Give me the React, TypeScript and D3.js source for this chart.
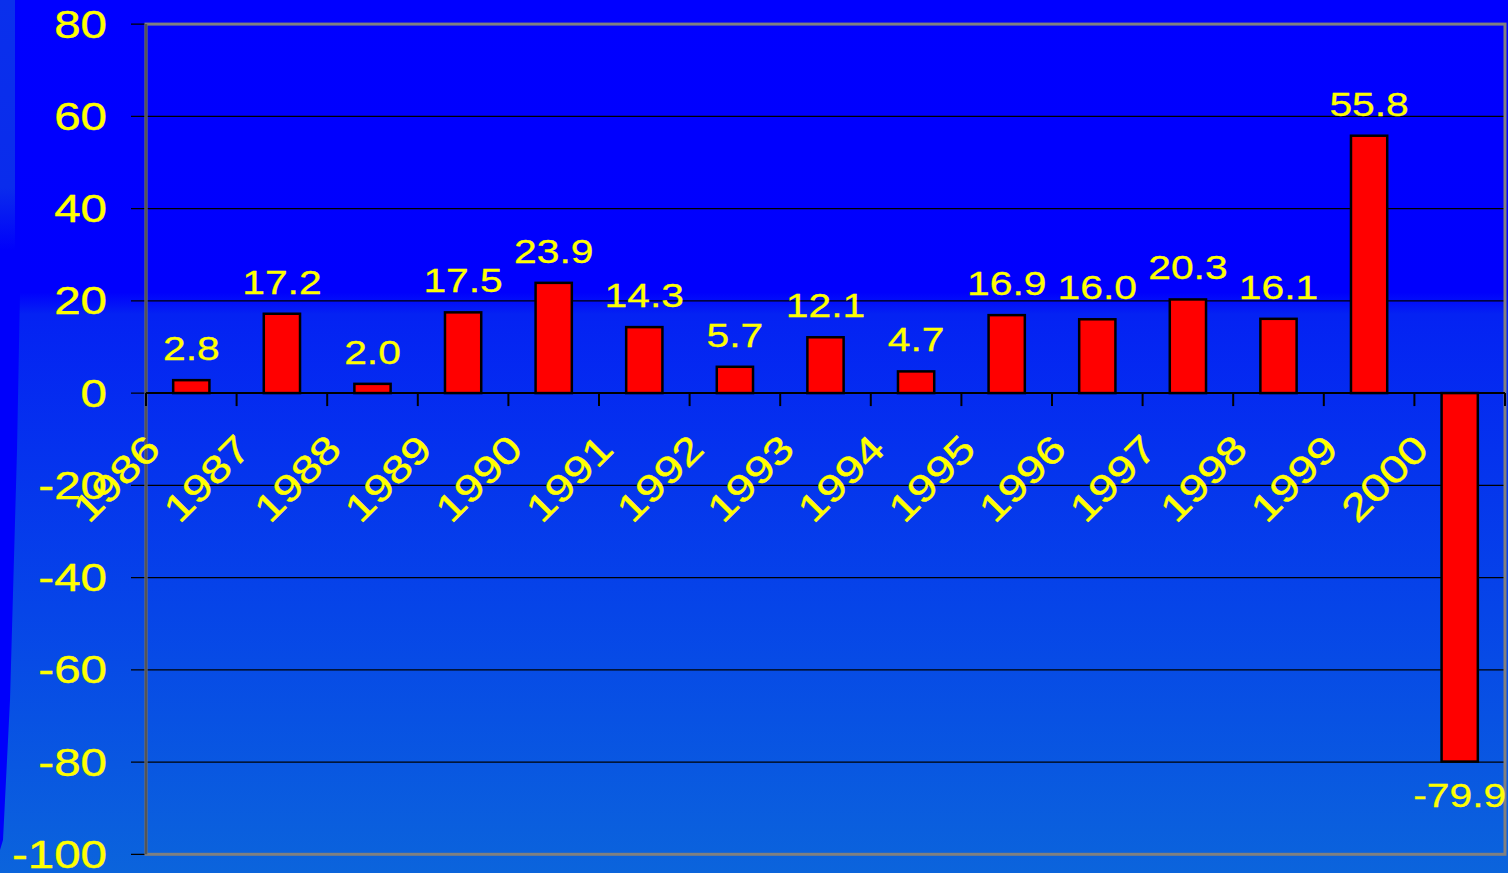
import React, { useEffect } from "react";
import * as d3 from "d3";

const years: string[] = ["1986","1987","1988","1989","1990","1991","1992","1993","1994","1995","1996","1997","1998","1999","2000"];
const values: number[] = [2.8, 17.2, 2.0, 17.5, 23.9, 14.3, 5.7, 12.1, 4.7, 16.9, 16.0, 20.3, 16.1, 55.8, -79.9];
const yTicks: number[] = [80, 60, 40, 20, 0, -20, -40, -60, -80, -100];

const W = 1508;
const H = 873;
const plot = { left: 146, right: 1505, top: 24.1, bottom: 854.3 };
const FONT = "'Liberation Sans', Arial, Helvetica, sans-serif";
const YELLOW = "#ffff00";

export default function App() {
  useEffect(() => {
    document.body.style.margin = "0";
    document.body.style.overflow = "hidden";
  }, []);

  const x = d3.scaleBand<string>().domain(years).range([plot.left, plot.right]).padding(0);
  const y = d3.scaleLinear().domain([-100, 80]).range([plot.bottom, plot.top]);
  const step = x.bandwidth();
  const barW = step * 0.4;
  const y0 = y(0);

  return (
    <svg width={W} height={H} style={{ position: "absolute", left: 0, top: 0 }}>
      <defs>
        <linearGradient id="bg" x1="0" y1="0" x2="0" y2="1">
          <stop offset="0" stopColor="#0000ff" />
          <stop offset="0.335" stopColor="#0000fd" />
          <stop offset="0.36" stopColor="#0422f3" />
          <stop offset="0.7" stopColor="#0645e8" />
          <stop offset="1" stopColor="#0b64dc" />
        </linearGradient>
        <linearGradient id="strip" x1="0" y1="0" x2="0" y2="1">
          <stop offset="0" stopColor="#0a30ec" />
          <stop offset="0.75" stopColor="#0a2cec" />
          <stop offset="1" stopColor="#0000fb" />
        </linearGradient>
      </defs>
      <rect x={0} y={0} width={W} height={H} fill="url(#bg)" />
      {/* left slide strip */}
      <polygon points="0,245 15,245 15,0 20,0 20,290 17,450 10,700 3,840 0,850" fill="#0000fb" />
      <rect x={0} y={0} width={15} height={250} fill="url(#strip)" />

      {/* gridlines */}
      {yTicks.map((t) => (
        <line key={"g" + t} x1={plot.left - 15} x2={plot.right} y1={y(t)} y2={y(t)} stroke="#000" strokeWidth={1.3} />
      ))}

      {/* plot border */}
      <rect x={plot.left} y={plot.top} width={plot.right - plot.left} height={plot.bottom - plot.top}
        fill="none" stroke="#808080" strokeWidth={3} />
      <line x1={plot.left} x2={plot.left} y1={plot.top} y2={plot.bottom} stroke="#555" strokeWidth={2.5} />

      {/* y labels */}
      {yTicks.map((t) => (
        <text key={"yl" + t} transform={`translate(107,${y(t) + 13.5}) scale(1.25,1)`} textAnchor="end"
          fontFamily={FONT} fontSize={38} fill={YELLOW} stroke={YELLOW} strokeWidth={0.4}>{t}</text>
      ))}

      {/* bars */}
      {years.map((yr, i) => {
        const v = values[i];
        const cx = (x(yr) as number) + step / 2;
        const top = Math.min(y(v), y0);
        const h = Math.abs(y(v) - y0);
        return (
          <rect key={"b" + yr} x={cx - barW / 2} y={top} width={barW} height={h}
            fill="#ff0000" stroke="#000" strokeWidth={2.5} />
        );
      })}

      {/* x axis */}
      <line x1={plot.left} x2={plot.right} y1={y0} y2={y0} stroke="#000" strokeWidth={2} />
      {years.map((yr) => (
        <line key={"t" + yr} x1={x(yr) as number} x2={x(yr) as number} y1={y0} y2={y0 + 13} stroke="#000" strokeWidth={2} />
      ))}
      <line x1={plot.right} x2={plot.right} y1={y0} y2={y0 + 13} stroke="#000" strokeWidth={2} />

      {/* category labels */}
      {years.map((yr) => {
        const cx = (x(yr) as number) + step / 2;
        return (
          <text key={"c" + yr} transform={`translate(${cx - 29},${y0 + 58}) rotate(-45) scale(1.23,1)`}
            textAnchor="end" fontFamily={FONT} fontSize={38} fill={YELLOW} stroke={YELLOW} strokeWidth={0.4}>{yr}</text>
        );
      })}

      {/* data labels */}
      {years.map((yr, i) => {
        const v = values[i];
        const cx = (x(yr) as number) + step / 2;
        const ly = v >= 0 ? y(v) - 20 : y(v) + 45;
        return (
          <text key={"d" + yr} transform={`translate(${cx},${ly}) scale(1.2,1)`} textAnchor="middle"
            fontFamily={FONT} fontSize={34} fill={YELLOW} stroke={YELLOW} strokeWidth={0.3}>{v.toFixed(1)}</text>
        );
      })}
    </svg>
  );
}
